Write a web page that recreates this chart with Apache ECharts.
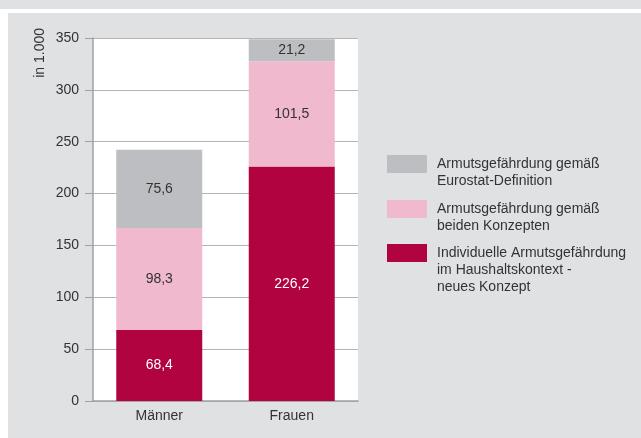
<!DOCTYPE html>
<html>
<head>
<meta charset="utf-8">
<script src="https://cdn.jsdelivr.net/npm/echarts@6/dist/echarts.min.js"></script>
<style>
  html, body { margin: 0; padding: 0; background: #fff; }
  #chart { width: 641px; height: 438px; }
</style>
</head>
<body>
<div id="chart"></div>
<script>
const categories = ['Männer', 'Frauen']
const seriesNames = [
  'Individuelle Armutsgefährdung\nim Haushaltskontext -\nneues Konzept',
  'Armutsgefährdung gemäß\nbeiden Konzepten',
  'Armutsgefährdung gemäß\nEurostat-Definition'
]
const neuesKonzept = [68.4, 226.2]
const beideKonzepte = [98.3, 101.5]
const eurostat = [75.6, 21.2]
const yTicks = [0, 50, 100, 150, 200, 250, 300, 350]

const font = '"Liberation Sans", Arial, sans-serif'
const colors = ['#b00340', '#f0b9cd', '#bdbec1']
const labelColors = ['#ffffff', '#333333', '#333333']

let chart = echarts.init(document.getElementById('chart'))

const fmt = (p) => String(p.value).replace('.', ',')

const values = [neuesKonzept, beideKonzepte, eurostat]

// Legende: je ein Eintrag; Leerzeilen oben, damit das Kästchen
// auf Höhe der ersten Textzeile sitzt
const lh = 17
const iconCenters = [253, 209, 164]
const legends = seriesNames.map((name, i) => {
  const n = name.split('\n').length
  return {
    orient: 'vertical',
    left: 387,
    top: iconCenters[i] - (2 * n - 1) * lh / 2,
    padding: 0,
    itemWidth: 40,
    itemHeight: 18,
    icon: 'rect',
    data: [name],
    formatter: (nm) => '\n'.repeat(n - 1) + nm,
    textStyle: {
      fontFamily: font, fontSize: 14, color: '#333', lineHeight: lh,
      padding: [0, 0, 0, 5]
    }
  }
})

const option = {
  backgroundColor: '#ffffff',
  animation: false,
  graphic: [
    // grauer Streifen oben + Panel
    { type: 'rect', z: -10, shape: { x: 0, y: 0, width: 641, height: 9 }, style: { fill: '#e0e1e3' } },
    { type: 'rect', z: -10, shape: { x: 8, y: 13, width: 633, height: 425 }, style: { fill: '#e0e1e3' } },
    // Plotfläche weiß
    { type: 'rect', z: -5, shape: { x: 93, y: 38, width: 265, height: 364 }, style: { fill: '#ffffff' } },
    {
      type: 'text', left: 33, top: 28, rotation: Math.PI / 2,
      style: { text: 'in 1.000', font: '14px ' + font, fill: '#333' }
    }
  ],
  legend: legends,
  grid: { left: 93, right: 283, top: 38, bottom: 37 },
  xAxis: {
    type: 'category',
    data: categories,
    axisLine: { lineStyle: { color: '#a0a0a0', width: 1.5 } },
    axisTick: { show: false },
    axisLabel: { fontFamily: font, fontSize: 14, color: '#333', margin: 8 }
  },
  yAxis: {
    type: 'value',
    min: 0,
    max: yTicks[yTicks.length - 1],
    interval: 50,
    axisLine: { show: true, lineStyle: { color: '#a0a0a0', width: 1.5 } },
    axisTick: { show: true, length: 8, lineStyle: { color: '#a0a0a0' } },
    axisLabel: { fontFamily: font, fontSize: 14, color: '#333', margin: 14 },
    splitLine: { lineStyle: { color: '#b4b4b4' } }
  },
  series: values.map((v, i) => ({
    name: seriesNames[i],
    type: 'bar',
    stack: 'total',
    barWidth: 86,
    data: v,
    itemStyle: { color: colors[i] },
    label: {
      show: true,
      position: 'inside',
      formatter: fmt,
      fontFamily: font,
      fontSize: 14,
      color: labelColors[i]
    }
  }))
}
chart.setOption(option)
</script>
</body>
</html>
